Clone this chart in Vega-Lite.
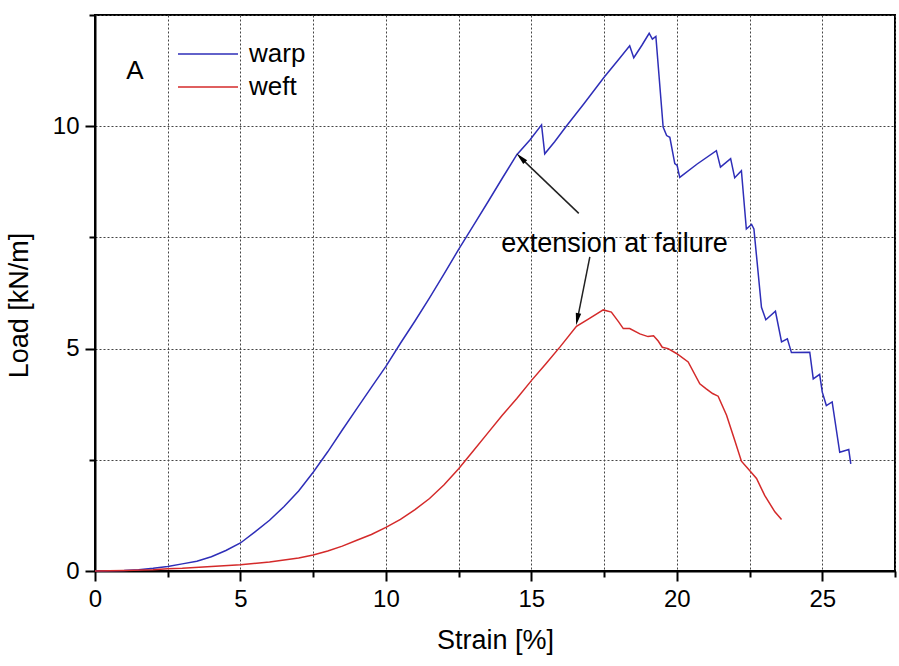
{
  "$schema": "https://vega.github.io/schema/vega-lite/v6.json",
  "width": 800,
  "height": 556,
  "autosize": "none",
  "padding": {"left": 95, "top": 15, "right": 4, "bottom": 95},
  "background": "white",
  "config": {
    "view": {"stroke": "black", "strokeWidth": 2},
    "font": "Liberation Sans",
    "text": {"font": "Liberation Sans"}
  },
  "datasets": {
    "curves": [
      {"series": "warp", "strain": 0, "load": 0},
      {"series": "warp", "strain": 1, "load": 0.01},
      {"series": "warp", "strain": 1.5, "load": 0.03},
      {"series": "warp", "strain": 2, "load": 0.06},
      {"series": "warp", "strain": 2.5, "load": 0.1},
      {"series": "warp", "strain": 3, "load": 0.16},
      {"series": "warp", "strain": 3.5, "load": 0.22},
      {"series": "warp", "strain": 4, "load": 0.32},
      {"series": "warp", "strain": 4.5, "load": 0.46},
      {"series": "warp", "strain": 5, "load": 0.63},
      {"series": "warp", "strain": 5.5, "load": 0.88},
      {"series": "warp", "strain": 6, "load": 1.14},
      {"series": "warp", "strain": 6.5, "load": 1.45},
      {"series": "warp", "strain": 7, "load": 1.8},
      {"series": "warp", "strain": 7.5, "load": 2.22},
      {"series": "warp", "strain": 8, "load": 2.68},
      {"series": "warp", "strain": 8.5, "load": 3.17},
      {"series": "warp", "strain": 9, "load": 3.65},
      {"series": "warp", "strain": 9.5, "load": 4.13},
      {"series": "warp", "strain": 10, "load": 4.6},
      {"series": "warp", "strain": 10.5, "load": 5.12},
      {"series": "warp", "strain": 11, "load": 5.62},
      {"series": "warp", "strain": 11.5, "load": 6.14},
      {"series": "warp", "strain": 12, "load": 6.68},
      {"series": "warp", "strain": 12.5, "load": 7.23},
      {"series": "warp", "strain": 13, "load": 7.76},
      {"series": "warp", "strain": 13.5, "load": 8.29},
      {"series": "warp", "strain": 14, "load": 8.83},
      {"series": "warp", "strain": 14.5, "load": 9.36},
      {"series": "warp", "strain": 14.95, "load": 9.69},
      {"series": "warp", "strain": 15.35, "load": 10.03},
      {"series": "warp", "strain": 15.46, "load": 9.38},
      {"series": "warp", "strain": 15.8, "load": 9.65},
      {"series": "warp", "strain": 16.2, "load": 10.0},
      {"series": "warp", "strain": 16.8, "load": 10.5},
      {"series": "warp", "strain": 17.5, "load": 11.1},
      {"series": "warp", "strain": 18, "load": 11.5},
      {"series": "warp", "strain": 18.38, "load": 11.81},
      {"series": "warp", "strain": 18.52, "load": 11.54},
      {"series": "warp", "strain": 18.8, "load": 11.82},
      {"series": "warp", "strain": 19.05, "load": 12.09},
      {"series": "warp", "strain": 19.16, "load": 11.96},
      {"series": "warp", "strain": 19.28, "load": 12.02},
      {"series": "warp", "strain": 19.53, "load": 9.98},
      {"series": "warp", "strain": 19.65, "load": 9.79},
      {"series": "warp", "strain": 19.76, "load": 9.75},
      {"series": "warp", "strain": 19.93, "load": 9.16},
      {"series": "warp", "strain": 20.01, "load": 9.12},
      {"series": "warp", "strain": 20.1, "load": 8.85},
      {"series": "warp", "strain": 20.7, "load": 9.15},
      {"series": "warp", "strain": 21.36, "load": 9.45},
      {"series": "warp", "strain": 21.5, "load": 9.08},
      {"series": "warp", "strain": 21.85, "load": 9.27},
      {"series": "warp", "strain": 21.99, "load": 8.84},
      {"series": "warp", "strain": 22.22, "load": 9.0},
      {"series": "warp", "strain": 22.39, "load": 7.69},
      {"series": "warp", "strain": 22.57, "load": 7.79},
      {"series": "warp", "strain": 22.65, "load": 7.69},
      {"series": "warp", "strain": 22.91, "load": 5.93},
      {"series": "warp", "strain": 23.06, "load": 5.65},
      {"series": "warp", "strain": 23.39, "load": 5.84},
      {"series": "warp", "strain": 23.6, "load": 5.15},
      {"series": "warp", "strain": 23.8, "load": 5.22},
      {"series": "warp", "strain": 23.94, "load": 4.91},
      {"series": "warp", "strain": 24.57, "load": 4.92},
      {"series": "warp", "strain": 24.69, "load": 4.32},
      {"series": "warp", "strain": 24.91, "load": 4.42},
      {"series": "warp", "strain": 25.0, "load": 4.02},
      {"series": "warp", "strain": 25.14, "load": 3.72},
      {"series": "warp", "strain": 25.34, "load": 3.8},
      {"series": "warp", "strain": 25.6, "load": 2.67},
      {"series": "warp", "strain": 25.91, "load": 2.73},
      {"series": "warp", "strain": 25.98, "load": 2.41},
      {"series": "weft", "strain": 0, "load": 0},
      {"series": "weft", "strain": 1, "load": 0.01},
      {"series": "weft", "strain": 2, "load": 0.03},
      {"series": "weft", "strain": 2.5, "load": 0.05},
      {"series": "weft", "strain": 3, "load": 0.06},
      {"series": "weft", "strain": 4, "load": 0.1},
      {"series": "weft", "strain": 5, "load": 0.14},
      {"series": "weft", "strain": 6, "load": 0.2},
      {"series": "weft", "strain": 7, "load": 0.29},
      {"series": "weft", "strain": 7.5, "load": 0.36},
      {"series": "weft", "strain": 8, "load": 0.45},
      {"series": "weft", "strain": 8.5, "load": 0.56},
      {"series": "weft", "strain": 9, "load": 0.69},
      {"series": "weft", "strain": 9.5, "load": 0.82},
      {"series": "weft", "strain": 10, "load": 0.98},
      {"series": "weft", "strain": 10.5, "load": 1.16},
      {"series": "weft", "strain": 11, "load": 1.38},
      {"series": "weft", "strain": 11.5, "load": 1.63},
      {"series": "weft", "strain": 12, "load": 1.94},
      {"series": "weft", "strain": 12.5, "load": 2.3},
      {"series": "weft", "strain": 13, "load": 2.7},
      {"series": "weft", "strain": 13.5, "load": 3.1},
      {"series": "weft", "strain": 14, "load": 3.5},
      {"series": "weft", "strain": 14.5, "load": 3.88},
      {"series": "weft", "strain": 15, "load": 4.28},
      {"series": "weft", "strain": 15.5, "load": 4.66},
      {"series": "weft", "strain": 16, "load": 5.05},
      {"series": "weft", "strain": 16.55, "load": 5.5},
      {"series": "weft", "strain": 17.0, "load": 5.68},
      {"series": "weft", "strain": 17.47, "load": 5.87},
      {"series": "weft", "strain": 17.75, "load": 5.82},
      {"series": "weft", "strain": 18.0, "load": 5.6},
      {"series": "weft", "strain": 18.16, "load": 5.45},
      {"series": "weft", "strain": 18.38, "load": 5.45},
      {"series": "weft", "strain": 18.73, "load": 5.33},
      {"series": "weft", "strain": 19.01, "load": 5.27},
      {"series": "weft", "strain": 19.2, "load": 5.29},
      {"series": "weft", "strain": 19.36, "load": 5.17},
      {"series": "weft", "strain": 19.5, "load": 5.03},
      {"series": "weft", "strain": 19.7, "load": 5.0},
      {"series": "weft", "strain": 19.99, "load": 4.89},
      {"series": "weft", "strain": 20.39, "load": 4.7},
      {"series": "weft", "strain": 20.79, "load": 4.21},
      {"series": "weft", "strain": 21.0, "load": 4.1},
      {"series": "weft", "strain": 21.23, "load": 3.99},
      {"series": "weft", "strain": 21.42, "load": 3.93},
      {"series": "weft", "strain": 21.71, "load": 3.5},
      {"series": "weft", "strain": 21.99, "load": 2.94},
      {"series": "weft", "strain": 22.22, "load": 2.47},
      {"series": "weft", "strain": 22.45, "load": 2.3},
      {"series": "weft", "strain": 22.74, "load": 2.08},
      {"series": "weft", "strain": 23.02, "load": 1.7},
      {"series": "weft", "strain": 23.37, "load": 1.33},
      {"series": "weft", "strain": 23.6, "load": 1.16}
    ],
    "arrows": [
      {"strain": 16.63, "load": 8.04, "strain2": 14.6, "load2": 9.31},
      {"strain": 17.01, "load": 7.06, "strain2": 16.57, "load2": 5.62}
    ],
    "heads": [
      {"strain": 14.64, "load": 9.29, "angle": -45},
      {"strain": 16.58, "load": 5.66, "angle": 191}
    ],
    "labels": [
      {"strain": 1.37, "load": 11.07, "label": "A", "size": 26},
      {"strain": 17.86, "load": 7.17, "label": "extension at failure", "size": 27}
    ]
  },
  "layer": [
    {
      "data": {"name": "curves"},
      "mark": {"type": "line", "strokeWidth": 1.5},
      "encoding": {
        "x": {
          "field": "strain",
          "type": "quantitative",
          "scale": {"domain": [0, 27.5], "nice": false, "zero": false},
          "axis": {
            "title": "Strain [%]",
            "values": [0, 2.5, 5, 7.5, 10, 12.5, 15, 17.5, 20, 22.5, 25, 27.5],
            "format": "~g",
            "labelExpr": "datum.value % 5 === 0 ? datum.label : ''",
            "labelFlush": false,
            "tickSize": {"condition": {"test": "datum.value % 5 === 0", "value": 10}, "value": 6},
            "tickColor": "black",
            "tickWidth": 2,
            "domainColor": "black",
            "domainWidth": 2,
            "grid": true,
            "gridDash": [2, 2],
            "gridColor": "#444444",
            "gridWidth": 1,
            "labelFontSize": 24,
            "labelColor": "black",
            "labelPadding": 6,
            "labelFont": "Liberation Sans",
            "titleFont": "Liberation Sans",
            "titleFontSize": 27,
            "titleFontWeight": "normal",
            "titleColor": "black",
            "titlePadding": 16
          }
        },
        "y": {
          "field": "load",
          "type": "quantitative",
          "scale": {"domain": [0, 12.5], "nice": false, "zero": false},
          "axis": {
            "title": "Load [kN/m]",
            "values": [0, 2.5, 5, 7.5, 10, 12.5],
            "format": "~g",
            "labelExpr": "datum.value % 5 === 0 ? datum.label : ''",
            "labelFlush": false,
            "tickSize": {"condition": {"test": "datum.value % 5 === 0", "value": 10}, "value": 6},
            "tickColor": "black",
            "tickWidth": 2,
            "domainColor": "black",
            "domainWidth": 2,
            "grid": true,
            "gridDash": [2, 2],
            "gridColor": "#444444",
            "gridWidth": 1,
            "labelFontSize": 24,
            "labelColor": "black",
            "labelPadding": 6,
            "labelFont": "Liberation Sans",
            "titleFont": "Liberation Sans",
            "titleFontSize": 27,
            "titleFontWeight": "normal",
            "titleColor": "black",
            "titlePadding": 19,
            "titleY": 290
          }
        },
        "color": {
          "field": "series",
          "type": "nominal",
          "scale": {"domain": ["warp", "weft"], "range": ["#2e2eb8", "#d42a2a"]},
          "legend": {
            "orient": "none",
            "legendX": 100,
            "legendY": 26,
            "title": null,
            "symbolType": "M-3,0H3",
            "symbolSize": 400,
            "symbolStrokeWidth": 1.5,
            "labelFontSize": 26,
            "labelFont": "Liberation Sans",
            "labelColor": "black",
            "labelOffset": 28,
            "rowPadding": 7
          }
        }
      }
    },
    {
      "data": {"name": "arrows"},
      "mark": {"type": "rule", "color": "#222222", "strokeWidth": 1.5},
      "encoding": {
        "x": {"field": "strain", "type": "quantitative", "scale": {"domain": [0, 27.5], "nice": false, "zero": false}},
        "y": {"field": "load", "type": "quantitative", "scale": {"domain": [0, 12.5], "nice": false, "zero": false}},
        "x2": {"field": "strain2"},
        "y2": {"field": "load2"}
      }
    },
    {
      "data": {"name": "heads"},
      "mark": {"type": "point", "shape": "M0,-1L0.45,1L-0.45,1Z", "filled": true, "color": "black", "size": 150, "opacity": 1},
      "encoding": {
        "x": {"field": "strain", "type": "quantitative", "scale": {"domain": [0, 27.5], "nice": false, "zero": false}},
        "y": {"field": "load", "type": "quantitative", "scale": {"domain": [0, 12.5], "nice": false, "zero": false}},
        "angle": {"field": "angle", "type": "quantitative", "scale": null}
      }
    },
    {
      "data": {"name": "labels"},
      "mark": {"type": "text", "color": "black", "font": "Liberation Sans", "align": "center", "baseline": "alphabetic"},
      "encoding": {
        "x": {"field": "strain", "type": "quantitative", "scale": {"domain": [0, 27.5], "nice": false, "zero": false}},
        "y": {"field": "load", "type": "quantitative", "scale": {"domain": [0, 12.5], "nice": false, "zero": false}},
        "text": {"field": "label"},
        "size": {"field": "size", "type": "quantitative", "scale": null}
      }
    }
  ]
}
